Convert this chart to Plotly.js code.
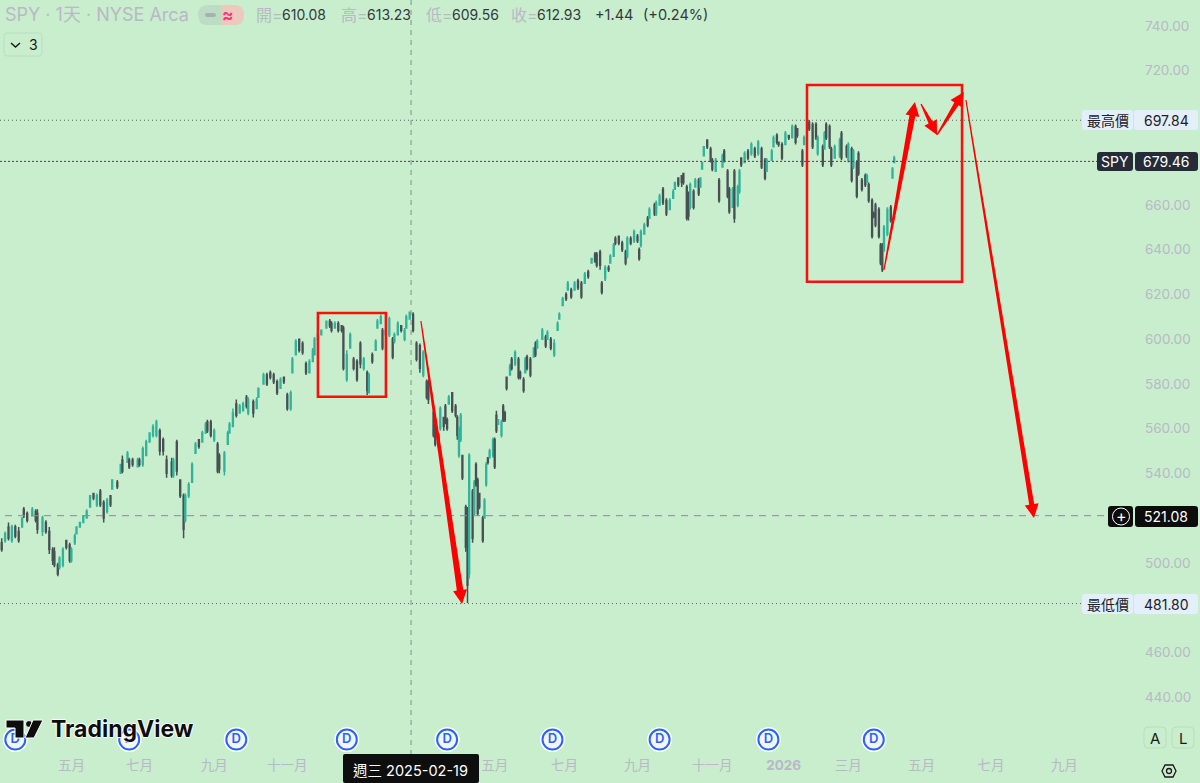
<!DOCTYPE html>
<html>
<head>
<meta charset="utf-8">
<script src="https://cdn.plot.ly/plotly-3.0.1.min.js"></script>
<style>
html,body{margin:0;padding:0;background:#c8eecd;overflow:hidden}
#chart{width:1200px;height:783px}
</style>
</head>
<body>
<div id="chart"></div>
<script>
// bars are trading days counted from the left edge of the chart
var barIndex = [
 1,3,5,7,9,11,13,14,16,19,
 21,22,25,27,29,31,32,34,35,37,
 39,41,42,44,45,47,49,51,53,55,
 57,59,61,63,65,66,69,71,72,75,
 76,78,81,82,84,86,88,90,92,94,
 96,98,101,102,104,106,108,109,111,113,
 115,117,119,121,122,124,126,128,129,132,
 134,135,137,139,141,143,145,146,149,151,
 152,155,157,159,161,163,165,167,169,171,
 172,174,176,178,180,182,184,185,187,189,
 192,194,195,197,199,201,202,204,206,208,
 210,212,214,216,217,219,221,222,224,225,
 227,229,231,232,234,236,238,239,241,243,
 245,247,249,251,252,255,256,258,259,261,
 262,263,264,266,268,269,270,271,272,274,
 275,276,278,279,280,281,282,284,285,286,
 287,288,290,291,292,293,295,296,297,298,
 300,301,303,305,306,308,309,310,312,314,
 315,316,319,321,322,324,326,328,329,331,
 333,334,336,338,340,342,344,346,348,350,
 351,353,354,356,358,359,361,362,364,366,
 368,369,371,373,375,376,377,379,381,382,
 385,386,388,390,392,394,396,397,399,401,
 402,404,405,406,408,409,411,412,413,414,
 416,418,419,421,423,425,426,428,429,431,
 432,434,435,436,438,440,442,444,446,448,
 450,451,454,455,457,458,460,462,464,466,
 468,469,472,473,476,478,480,481,484,485,
 486,488,489,491,494,495,498,499,501,502,
 504,505,507,509,510,511,513,514,515,517,
 518,519,520,522,524,525,526];

var openPrice = [
 509,510,516,510,516,514,516,524,522,521,
 523,522,514,518,514,506,505,499,498,499,
 510,508,501,509,513,516,518,520,525,531,
 526,532,527,523,530,533,536,540,546,545,
 546,546,543,546,544,548,554,557,557,559,
 555,546,545,539,554,537,530,519,530,536,
 549,555,554,558,563,563,555,553,548,541,
 553,558,561,571,567,568,574,567,572,569,
 574,580,584,585,584,581,578,583,575,569,
 585,593,600,598,589,585,590,593,600,602,
 605,608,607,605,607,606,605,582,596,591,
 590,598,587,585,576,593,595,605,607,604,
 604,602,600,599,602,606,600,605,609,611,
 598,597,584,581,581,567,564,557,560,565,
 570,564,571,576,570,565,548,555,548,525,
 524,495,532,522,544,537,531,520,520,535,
 547,547,548,555,566,562,557,570,567,583,
 584,591,589,591,585,582,585,592,591,592,
 598,596,600,601,600,600,593,604,609,615,
 620,622,622,622,626,625,625,630,634,638,
 638,639,625,627,632,634,637,645,646,643,
 639,637,645,644,646,640,642,647,654,654,
 660,656,660,667,662,658,663,667,672,673,
 674,668,665,659,666,668,671,668,676,682,
 689,685,680,675,671,677,684,675,667,659,
 675,660,666,681,679,684,683,685,683,685,
 680,675,680,686,691,688,687,687,691,690,
 695,694,684,687,697,696,696,683,686,685,
 696,695,685,681,682,692,686,680,685,677,
 679,683,671,673,670,669,662,656,660,658,
 642,642,640,647,659,672,679];

var highPrice = [
 511,514,518,517,517,516,520,525,523,525,
 524,524,521,519,516,507,507,500,503,507,
 510,509,507,513,516,518,521,524,530,531,
 531,533,528,529,530,537,537,544,548,550,
 547,547,547,547,552,555,558,562,564,560,
 556,548,547,547,555,537,531,531,536,545,
 554,555,559,563,564,564,560,554,549,550,
 559,563,569,573,571,572,575,574,573,574,
 578,585,585,586,585,582,583,583,576,577,
 592,600,600,599,590,591,596,601,602,604,
 608,609,608,608,608,606,606,595,603,592,
 591,599,592,586,585,594,600,609,611,605,
 605,610,601,603,608,606,605,611,612,612,
 599,598,595,582,582,568,565,558,570,565,
 571,565,575,576,571,566,561,567,548,526,
 525,549,533,537,545,538,531,521,529,545,
 547,551,556,556,568,564,564,571,568,583,
 589,592,595,592,586,583,592,593,592,596,
 599,600,605,602,604,601,600,608,612,619,
 621,626,623,626,627,626,630,631,636,639,
 639,640,626,633,633,638,643,646,646,644,
 640,646,646,649,647,641,649,652,655,659,
 661,662,665,668,663,663,667,670,672,673,
 674,669,666,670,667,672,672,672,679,686,
 689,686,681,681,672,683,685,676,668,668,
 676,669,676,681,684,685,688,686,689,686,
 681,681,685,691,692,688,688,693,691,696,
 696,694,685,691,698,697,697,691,687,693,
 697,696,686,687,690,693,687,688,686,685,
 680,684,672,674,674,670,663,657,661,659,
 643,643,651,659,660,677,682];

var lowPrice = [
 505,509,510,509,511,509,516,520,518,521,
 518,513,512,513,504,499,498,494,497,498,
 506,500,500,508,513,516,518,520,525,528,
 525,525,518,522,525,533,533,540,540,545,
 542,543,543,543,543,548,554,556,556,548,
 548,538,538,538,539,529,511,518,529,536,
 549,551,554,558,558,556,554,540,540,539,
 553,558,561,565,567,568,569,566,565,569,
 574,580,579,582,580,575,578,580,568,568,
 585,593,594,593,584,585,590,593,600,602,
 605,605,603,605,603,603,586,581,596,586,
 581,587,586,575,576,589,595,605,607,595,
 601,601,591,598,602,603,599,605,609,603,
 590,585,583,573,571,556,552,550,559,559,
 562,559,571,567,565,555,547,554,537,505,
 482,493,509,521,534,521,524,509,520,534,
 544,547,547,542,558,562,556,563,563,577,
 584,586,588,582,582,576,585,586,583,592,
 592,596,600,596,600,595,592,604,609,615,
 617,622,618,622,622,618,625,627,634,634,
 632,631,620,626,630,634,637,642,642,639,
 633,636,642,643,643,635,641,647,650,654,
 655,655,660,660,655,658,663,667,668,668,
 669,653,653,658,658,668,664,668,676,682,
 685,679,675,675,661,677,679,663,656,659,
 652,659,665,677,679,680,682,681,682,676,
 671,675,680,686,687,686,680,687,689,690,
 687,690,677,687,693,685,689,682,677,685,
 689,685,677,681,681,680,681,679,670,676,
 663,673,666,668,670,661,645,654,650,645,
 633,630,639,646,652,672,679];

var closePrice = [
 506,513,511,516,512,510,520,521,519,524,
 519,515,520,514,506,501,499,495,502,506,
 507,501,506,512,516,518,521,523,530,529,
 530,526,520,528,526,537,534,544,541,549,
 543,544,546,544,551,554,558,561,563,550,
 550,540,539,546,541,530,515,530,535,544,
 553,552,558,562,559,557,559,541,542,549,
 558,562,567,566,570,571,570,573,567,573,
 578,584,580,583,581,576,582,581,569,576,
 591,599,595,594,585,590,595,600,602,604,
 608,606,604,607,604,604,587,593,602,587,
 582,589,591,577,584,590,599,608,610,596,
 602,609,592,602,607,604,604,610,612,604,
 591,587,594,574,573,557,553,552,569,561,
 563,560,574,568,566,557,560,566,538,507,
 490,548,511,536,535,522,525,510,528,544,
 545,550,555,543,559,564,563,564,564,578,
 588,587,594,583,583,577,591,587,584,596,
 593,599,604,597,603,596,598,607,611,618,
 618,625,619,625,623,619,629,628,636,635,
 633,633,621,632,631,637,642,643,643,640,
 634,645,643,648,644,636,648,651,651,658,
 656,661,664,661,656,662,666,670,669,670,
 670,654,655,669,659,671,665,672,679,686,
 686,680,676,680,662,682,680,664,657,667,
 654,668,675,678,683,681,687,682,688,677,
 672,680,684,690,688,687,681,692,690,695,
 688,691,678,690,694,686,690,690,678,692,
 690,686,678,686,689,681,682,687,671,684,
 664,674,667,669,673,662,646,655,651,646,
 634,631,650,658,653,676,681];

var priceTicks = [740,720,660,640,620,600,580,560,540,500,460,440];
var monthBars = [2,42,82,126,169,291,332,375,419,461,499,542,583,626];
var monthLabels = ['月','五月','七月','九月','十一月','五月','七月','九月','十一月','<b>2026</b>','三月','五月','七月','九月'];
var dividendBars = [9,76,139,204,263,325,388,452,514];
var dividendPrice = 421;

var highestPrice = 697.84, lastPrice = 679.46, lowestPrice = 481.80, crossPrice = 521.08;
var crossBar = 241.8;

// drawings on the chart, as [bar, price]
var boxes = [[[187,574.2],[227,611.7]], [[474.7,625.6],[565.9,713.6]]];
var arrowFrom = [[247.6,608.1],[520,630.9],[541.8,705.1],[551.2,691.3],[568.2,706.9]];
var arrowTo = [[271.8,481.6],[538.2,706],[551.2,691.3],[567,710.5],[608.2,520]];
var arrowEndWidth = [6.5,6,4.5,5,5];

var PLOT_W = 1135, PLOT_H = 755;
var xRange = [0, PLOT_W/1.7];
var yRange = [414.1, 751.6];
var pxPerBar = PLOT_W/(xRange[1]-xRange[0]);
var pxPerPrice = PLOT_H/(yRange[1]-yRange[0]);
var UI = 'Inter, "Noto Sans CJK TC", sans-serif';

function xp(px){ return px/PLOT_W; }
function yp(py){ return 1-py/PLOT_H; }

// tapered brush arrow, thin at the start and thick by the head
function arrowPath(from, to, w1){
  var dx = (to[0]-from[0])*pxPerBar, dy = (to[1]-from[1])*pxPerPrice;
  var len = Math.sqrt(dx*dx+dy*dy), ux = dx/len, uy = dy/len, nx = -uy, ny = ux;
  var headL = 14, headW = 14;
  function pt(along, side){
    var b = from[0]+(ux*along+nx*side)/pxPerBar;
    var p = from[1]+(uy*along+ny*side)/pxPerPrice;
    return b+','+p;
  }
  return 'M'+pt(0,0.6)+' L'+pt(len-headL,w1/2)+' L'+pt(len-headL,headW/2)+' L'+pt(len,0)+
    ' L'+pt(len-headL,-headW/2)+' L'+pt(len-headL,-w1/2)+' L'+pt(0,-0.6)+' Z';
}

function roundBox(x0,y0,x1,y1,r,fill,line){
  var p = 'M'+xp(x0+r)+','+yp(y0)+' L'+xp(x1-r)+','+yp(y0)+' Q'+xp(x1)+','+yp(y0)+' '+xp(x1)+','+yp(y0+r)+
    ' L'+xp(x1)+','+yp(y1-r)+' Q'+xp(x1)+','+yp(y1)+' '+xp(x1-r)+','+yp(y1)+
    ' L'+xp(x0+r)+','+yp(y1)+' Q'+xp(x0)+','+yp(y1)+' '+xp(x0)+','+yp(y1-r)+
    ' L'+xp(x0)+','+yp(y0+r)+' Q'+xp(x0)+','+yp(y0)+' '+xp(x0+r)+','+yp(y0)+' Z';
  return {type:'path',xref:'paper',yref:'paper',path:p,fillcolor:fill,line:{color:line||fill,width:line?1:0},layer:'above'};
}
function polyShape(points,fill,line,lw){
  var p = points.map(function(q,i){ return (i?'L':'M')+xp(q[0])+','+yp(q[1]); }).join(' ')+' Z';
  return {type:'path',xref:'paper',yref:'paper',path:p,fillcolor:fill,line:{color:line||fill,width:lw||0},layer:'above'};
}
function hLine(price,pxEnd,pxStart,color,dash){
  return {type:'line',xref:'x',yref:'y',x0:pxStart/pxPerBar,x1:pxEnd/pxPerBar,y0:price,y1:price,
    line:{color:color,width:1,dash:dash},layer:'above'};
}
function label(px,py,text,size,color,anchor,extra){
  var a = {xref:'paper',yref:'paper',x:xp(px),y:yp(py),text:text,showarrow:false,xanchor:anchor||'left',yanchor:'middle',
    font:{family:UI,size:size,color:color}};
  for (var k in extra) a[k] = extra[k];
  return a;
}

var candles = {
  type:'candlestick', x:barIndex, open:openPrice, high:highPrice, low:lowPrice, close:closePrice,
  increasing:{line:{color:'#2fb39a',width:1.5},fillcolor:'#2fb39a'},
  decreasing:{line:{color:'#465053',width:1.5},fillcolor:'#465053'},
  whiskerwidth:0, hoverinfo:'skip', showlegend:false
};
var dividendHalo = {
  type:'scatter', mode:'markers', x:dividendBars, y:dividendBars.map(function(){return dividendPrice;}),
  marker:{size:25,color:'#ffffff'}, hoverinfo:'skip', showlegend:false
};
var dividends = {
  type:'scatter', mode:'markers+text', x:dividendBars, y:dividendBars.map(function(){return dividendPrice;}),
  marker:{size:20,color:'#f2f7f4',line:{color:'#2962ff',width:2}},
  text:dividendBars.map(function(){return 'D';}), textposition:'middle center',
  textfont:{family:UI,size:13,color:'#2962ff',weight:600}, hoverinfo:'skip', showlegend:false
};

var shapes = [
  hLine(highestPrice,1085,0,'#5c6468','1px,3px'),
  hLine(lastPrice,1097,0,'#40484c','2px,2px'),
  hLine(lowestPrice,1085,0,'#5c6468','1px,3px'),
  hLine(crossPrice,1108,5,'#858d91','7px,6px'),
  {type:'line',xref:'x',yref:'paper',x0:crossBar,x1:crossBar,y0:0,y1:1,line:{color:'#858d91',width:1,dash:'5px,5px'},layer:'above'}
];
boxes.forEach(function(b){
  shapes.push({type:'rect',xref:'x',yref:'y',x0:b[0][0],y0:b[0][1],x1:b[1][0],y1:b[1][1],
    line:{color:'#ff0c0c',width:2.5},fillcolor:'rgba(0,0,0,0)',layer:'above'});
});
arrowFrom.forEach(function(f,i){
  shapes.push({type:'path',xref:'x',yref:'y',path:arrowPath(f,arrowTo[i],arrowEndWidth[i]),
    fillcolor:'#ff0000',line:{color:'#ff0000',width:0},layer:'above'});
});

// price labels on the right
shapes.push(roundBox(1082,110,1133,130,3,'#e3effa'), roundBox(1134,110,1198,130,3,'#e3effa'));
shapes.push(roundBox(1097,152,1133,171,3,'#262b38'), roundBox(1135,152,1198,171,3,'#262b38'));
shapes.push(roundBox(1082,594,1133,614,3,'#e3effa'), roundBox(1134,594,1198,614,3,'#e3effa'));
shapes.push(roundBox(1108,506,1133,527,3,'#0c0c0c'), roundBox(1135,506,1198,527,3,'#0c0c0c'));
shapes.push({type:'circle',xref:'paper',yref:'paper',x0:xp(1112.5),x1:xp(1129.5),y0:yp(525),y1:yp(508),
  line:{color:'#ffffff',width:1},fillcolor:'rgba(0,0,0,0)',layer:'above'});
// date tag under the crosshair
shapes.push(roundBox(343,754,479,783,2,'#0e0e0e'));
// legend pill and the collapsed indicator count
shapes.push(roundBox(198,5,244,25,10,'#bcdcc3'));
shapes.push({type:'path',xref:'paper',yref:'paper',layer:'above',line:{width:0},fillcolor:'#eccabb',
  path:'M'+xp(221)+','+yp(5)+' L'+xp(234)+','+yp(5)+' Q'+xp(244)+','+yp(5)+' '+xp(244)+','+yp(15)+' Q'+xp(244)+','+yp(25)+' '+xp(234)+','+yp(25)+' L'+xp(221)+','+yp(25)+' Z'});
shapes.push(roundBox(205,13,216,17,2,'#a9b0b4'));
shapes.push(roundBox(4,33,42,56,3,'rgba(0,0,0,0)','#bcdcc3'));
shapes.push({type:'path',xref:'paper',yref:'paper',layer:'above',line:{color:'#1a1a1a',width:1.5},
  path:'M'+xp(11)+','+yp(43)+' L'+xp(15.5)+','+yp(47)+' L'+xp(20)+','+yp(43)});
// A / L buttons and settings hexagon
shapes.push(roundBox(1144,727,1166,748,4,'rgba(0,0,0,0)','#b9dcc0'));
shapes.push(roundBox(1172,727,1194,748,4,'rgba(0,0,0,0)','#b9dcc0'));
shapes.push(polyShape([[1162,771],[1165,765],[1173,765],[1176,771],[1173,777],[1165,777]],'rgba(0,0,0,0)','#1a1a1a',1.3));
shapes.push({type:'circle',xref:'paper',yref:'paper',x0:xp(1166.5),x1:xp(1171.5),y0:yp(773.5),y1:yp(768.5),line:{color:'#1a1a1a',width:1.3},fillcolor:'rgba(0,0,0,0)',layer:'above'});
// logo
shapes.push(polyShape([[6,720],[24,720],[24,738],[15,738],[15,728],[6,728]],'#0d0d0d','#ffffff',1));
shapes.push({type:'circle',xref:'paper',yref:'paper',x0:xp(25.5),x1:xp(32.5),y0:yp(727.5),y1:yp(720.5),fillcolor:'#0d0d0d',line:{color:'#ffffff',width:1},layer:'above'});
shapes.push(polyShape([[33,720],[43,720],[34,738],[25,738]],'#0d0d0d','#ffffff',1));

var GREY = '#b8b8c6', INK = '#33393e';
var halo = '1px 0 1px #fff, -1px 0 1px #fff, 0 1px 1px #fff, 0 -1px 1px #fff';
var annotations = [
  label(3,15,'SPY · 1天 · NYSE Arca',18,GREY),
  label(228,15,'≈',17,'#ff2e7e','center',{font:{family:UI,size:17,color:'#ff2e7e',weight:700}}),
  label(254,15,'開=',16,GREY),
  label(280,15,'610.08',14,INK),
  label(339,15,'高=',16,GREY),
  label(365,15,'613.23',14,INK),
  label(424,15,'低=',16,GREY),
  label(450,15,'609.56',14,INK),
  label(509,15,'收=',16,GREY),
  label(535,15,'612.93',14,INK),
  label(593,15,'+1.44',14.5,INK),
  label(641,15,'(+0.24%)',14.5,INK),
  label(27,45,'3',14,'#1a1a1a'),
  label(1107.5,120,'最高價',14,'#1c2026','center'),
  label(1166,120,'697.84',14,'#1c2026','center'),
  label(1115,161.5,'SPY',14,'#ffffff','center'),
  label(1166,161.5,'679.46',14,'#ffffff','center'),
  label(1107.5,604,'最低價',14,'#1c2026','center'),
  label(1166,604,'481.80',14,'#1c2026','center'),
  label(1121,516,'+',16,'#ffffff','center'),
  label(1166,516.5,'521.08',14,'#ffffff','center'),
  label(410,770,'週三 2025-02-19',14.5,'#ffffff','center'),
  label(1155,738,'A',15,'#1a1a1a','center'),
  label(1183,738,'L',15,'#1a1a1a','center'),
  label(49,729,'TradingView',23,'#0d0d0d','left',{font:{family:UI,size:23,color:'#0d0d0d',weight:700,shadow:halo}})
];

var layout = {
  width:1200, height:783,
  margin:{l:0,r:65,t:0,b:28,pad:0},
  paper_bgcolor:'#c8eecd', plot_bgcolor:'#c8eecd',
  showlegend:false,
  xaxis:{type:'linear',range:xRange,showgrid:false,zeroline:false,showline:false,ticks:'',
    tickmode:'array',tickvals:monthBars,ticktext:monthLabels,
    tickfont:{family:UI,size:13.5,color:GREY},rangeslider:{visible:false},fixedrange:true},
  yaxis:{side:'right',range:yRange,showgrid:false,zeroline:false,showline:false,ticks:'',
    tickmode:'array',tickvals:priceTicks,ticktext:priceTicks.map(function(v){return v.toFixed(2);}),
    tickfont:{family:UI,size:13.5,color:GREY},ticklabelstandoff:9,fixedrange:true},
  shapes:shapes,
  annotations:annotations
};

Plotly.newPlot('chart',[candles,dividendHalo,dividends],layout,{displayModeBar:false,staticPlot:true});
</script>
</body>
</html>
